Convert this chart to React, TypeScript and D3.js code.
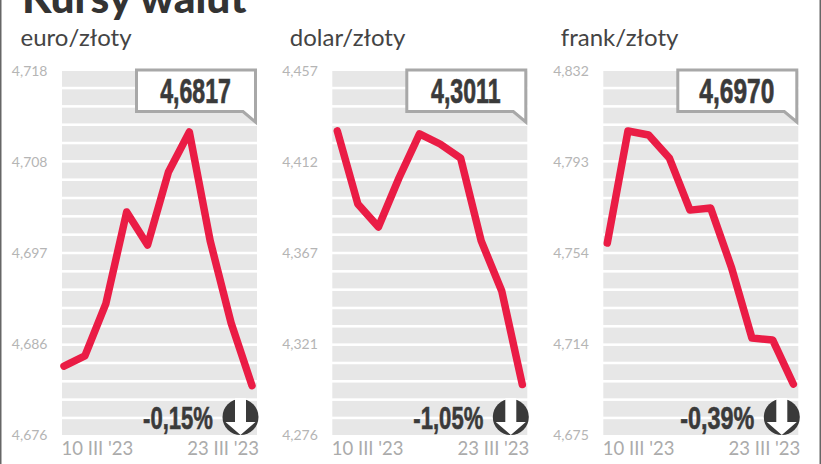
import { useEffect, useRef } from "react";
import * as d3 from "d3";

const width = 821;
const height = 464;

const days = ["10 III", "13 III", "14 III", "15 III", "16 III", "17 III", "20 III", "21 III", "22 III", "23 III"];

const euroValues = [4.68396, 4.68512, 4.69112, 4.70173, 4.69792, 4.70635, 4.71096, 4.69838, 4.68892, 4.6817];
const dollarValues = [4.4272, 4.3909, 4.3794, 4.4038, 4.4257, 4.4207, 4.4137, 4.3725, 4.3476, 4.3011];
const frankValues = [4.7578, 4.8061, 4.8044, 4.7945, 4.772, 4.7729, 4.7475, 4.7168, 4.716, 4.697];

const euroTicks = ["4,718", "4,708", "4,697", "4,686", "4,676"];
const dollarTicks = ["4,457", "4,412", "4,367", "4,321", "4,276"];
const frankTicks = ["4,832", "4,793", "4,754", "4,714", "4,675"];

const panelNames = ["euro/złoty", "dolar/złoty", "frank/złoty"];
const lastRates = ["4,6817", "4,3011", "4,6970"];
const changes = ["-0,15%", "-1,05%", "-0,39%"];
const domains: [number, number][] = [
  [4.676, 4.718],
  [4.276, 4.457],
  [4.675, 4.832],
];

const condensed = "'Liberation Sans', sans-serif";

export default function App() {
  const svgRef = useRef<SVGSVGElement>(null);

  useEffect(() => {
    if (!svgRef.current) return;
    const svg = d3.select(svgRef.current);
    svg.selectAll("*").remove();

    svg.append("rect").attr("width", width).attr("height", height).attr("fill", "#fff");
    svg.append("rect").attr("x", 0).attr("width", 1.5).attr("height", height).attr("fill", "#666");
    svg.append("rect").attr("x", 819.5).attr("width", 1.5).attr("height", height).attr("fill", "#666");

    svg
      .append("text")
      .attr("x", 22)
      .attr("y", 12.5)
      .attr("fill", "#333")
      .style("font-family", "Lato")
      .style("font-weight", 900)
      .style("font-size", "42.5px")
      .text("Kursy walut");

    const series = [euroValues, dollarValues, frankValues];
    const ticks = [euroTicks, dollarTicks, frankTicks];
    const offsets = [0, 270.3, 541.3];
    const lineStarts = [64, 67, 66];
    // the condensed figures are squeezed a bit differently per panel
    const rateScales = [0.67, 0.67, 0.71];
    const changeScales = [0.69, 0.69, 0.73];
    const top = 71;
    const bottom = 435;

    series.forEach((values, i) => {
      const g = svg.append("g").attr("transform", `translate(${offsets[i]},0)`);

      const x = d3.scalePoint().domain(days).range([lineStarts[i], 252]);
      const y = d3.scaleLinear().domain(domains[i]).range([bottom, top]);
      const yTick = d3.scalePoint().domain(ticks[i]).range([top, bottom]);
      const stripes = d3.scaleBand<number>().domain(d3.range(20)).range([top, bottom]).paddingInner(0.14);

      g.append("text")
        .attr("x", i === 0 ? 20.5 : 19.5)
        .attr("y", 46)
        .attr("fill", "#444")
        .style("font-family", "Lato")
        .style("font-size", "24px")
        .text(panelNames[i]);

      g.selectAll("rect.stripe")
        .data(d3.range(20))
        .join("rect")
        .attr("class", "stripe")
        .attr("x", 62)
        .attr("y", (d) => stripes(d) ?? 0)
        .attr("width", 195)
        .attr("height", stripes.bandwidth())
        .attr("fill", "#e7e7e7");

      g.selectAll("text.tick")
        .data(ticks[i])
        .join("text")
        .attr("class", "tick")
        .attr("x", 47.5)
        .attr("y", (d) => yTick(d) ?? 0)
        .attr("dy", "0.35em")
        .attr("text-anchor", "end")
        .attr("fill", "#b5b5b5")
        .style("font-family", "Lato")
        .style("font-size", "14px")
        .text((d) => d);

      g.append("text")
        .attr("x", 61.5)
        .attr("y", 455)
        .attr("fill", "#ababab")
        .style("font-family", "Lato")
        .style("font-size", "18.5px")
        .text("10 III '23");
      g.append("text")
        .attr("x", 259)
        .attr("y", 455)
        .attr("text-anchor", "end")
        .attr("fill", "#ababab")
        .style("font-family", "Lato")
        .style("font-size", "18.5px")
        .text("23 III '23");

      const line = d3
        .line<number>()
        .x((_, j) => x(days[j]) ?? 0)
        .y((d) => y(d));

      g.append("path")
        .attr("d", line(values))
        .attr("fill", "none")
        .attr("stroke", "#ea1c45")
        .attr("stroke-width", 7.5)
        .attr("stroke-linejoin", "round")
        .attr("stroke-linecap", "round");

      // callout with the last rate
      g.append("path")
        .attr("d", "M136.5,70H255.5V122L243,111.5H136.5Z")
        .attr("fill", "#fff")
        .attr("stroke", "#a8a8a8")
        .attr("stroke-width", 3);
      g.append("text")
        .attr("transform", `translate(195.5,103) scale(${rateScales[i]},1)`)
        .attr("text-anchor", "middle")
        .attr("fill", "#3a3a3a")
        .attr("stroke", "#3a3a3a")
        .attr("stroke-width", 0.7)
        .style("font-family", condensed)
        .style("font-weight", 700)
        .style("font-size", "34.5px")
        .text(lastRates[i]);

      g.append("text")
        .attr("transform", `translate(213,429) scale(${changeScales[i]},1)`)
        .attr("text-anchor", "end")
        .attr("fill", "#3a3a3a")
        .attr("stroke", "#3a3a3a")
        .attr("stroke-width", 0.6)
        .style("font-family", condensed)
        .style("font-weight", 700)
        .style("font-size", "32px")
        .text(changes[i]);

      // down arrow badge
      const badge = g.append("g").attr("transform", "translate(240.5,417)");
      badge.append("circle").attr("r", 18).attr("fill", "#3a3a3a");
      badge
        .append("path")
        .attr("d", "M-5.5,-19H5.5V5H15L0,18L-15,5H-5.5Z")
        .attr("fill", "#fff");
    });
  }, []);

  return (
    <svg
      ref={svgRef}
      width={width}
      height={height}
      style={{ position: "absolute", left: 0, top: 0 }}
    />
  );
}
